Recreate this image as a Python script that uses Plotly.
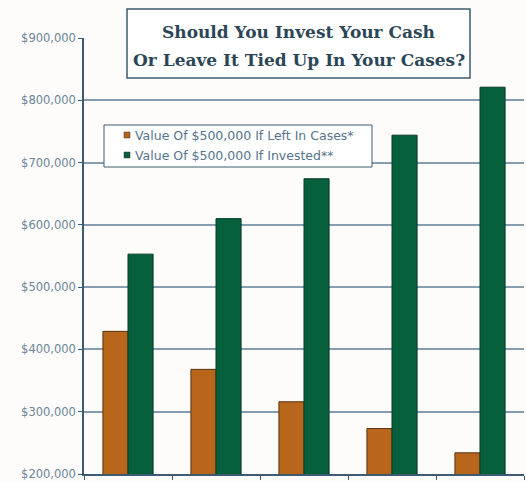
import plotly.graph_objects as go

categories = ["Year 1", "Year 2", "Year 3", "Year 4", "Year 5"]
left_in_cases = [429000, 368000, 316000, 273000, 234000]
invested = [553000, 610000, 674000, 744000, 821000]
tick_values = [200000, 300000, 400000, 500000, 600000, 700000, 800000, 900000]
tick_labels = ["$200,000", "$300,000", "$400,000", "$500,000",
               "$600,000", "$700,000", "$800,000", "$900,000"]
series_names = ["Value Of $500,000 If Left In Cases*", "Value Of $500,000 If Invested**"]
series_colors = ["#b8661c", "#07603c"]
title_lines = ["Should You Invest Your Cash", "Or Leave It Tied Up In Your Cases?"]

W, H = 526, 482
L, R, T, B = 84, 2, 38, 8
pw, ph = W - L - R, H - T - B

def px(x):
    return (x - L) / pw

def py(y):
    return (H - B - y) / ph

slate = "#3d5b70"

fig = go.Figure()
fig.add_trace(go.Bar(x=categories, y=left_in_cases, name=series_names[0],
                     marker=dict(color=series_colors[0], line=dict(color="#5a3410", width=1))))
fig.add_trace(go.Bar(x=categories, y=invested, name=series_names[1],
                     marker=dict(color=series_colors[1], line=dict(color="#043a24", width=1))))

fig.update_layout(
    width=W, height=H,
    margin=dict(l=L, r=R, t=T, b=B, pad=0, autoexpand=False),
    paper_bgcolor="#fefcfa", plot_bgcolor="#fefcfa",
    barmode="group", bargap=0.43, bargroupgap=0,
    showlegend=False,
    xaxis=dict(range=[-0.5, 4.5], showticklabels=False, ticks="outside",
               tickson="boundaries", ticklen=4, tickcolor=slate, automargin=False,
               showline=True, linecolor=slate, linewidth=1.5, showgrid=False),
    yaxis=dict(range=[200000, 900000], tickvals=tick_values, ticktext=tick_labels,
               ticks="outside", ticklen=4, tickcolor=slate, automargin=False,
               showline=True, linecolor=slate, linewidth=1.5,
               gridcolor="#869db0", gridwidth=2, zeroline=False,
               tickfont=dict(family="DejaVu Sans", size=11.5, color="#6a8499")),
)

# title box
fig.add_shape(type="rect", xref="paper", yref="paper",
              x0=px(127), x1=px(470), y0=py(78), y1=py(9),
              line=dict(color=slate, width=1.5), fillcolor="#ffffff", layer="above")
for line, yy in zip(title_lines, [32, 60]):
    fig.add_annotation(xref="paper", yref="paper", x=px(298.5), y=py(yy),
                       text="<b>" + line + "</b>", showarrow=False,
                       xanchor="center", yanchor="middle",
                       font=dict(family="DejaVu Serif", size=17, color="#2a4657"))

# legend box
fig.add_shape(type="rect", xref="paper", yref="paper",
              x0=px(104), x1=px(372), y0=py(167), y1=py(125),
              line=dict(color=slate, width=1), fillcolor="#ffffff", layer="above")
for name, color, yy in zip(series_names, series_colors, [135, 155]):
    fig.add_shape(type="rect", xref="paper", yref="paper",
                  x0=px(124), x1=px(130), y0=py(yy + 3), y1=py(yy - 3),
                  line=dict(color="#333333", width=0.5), fillcolor=color, layer="above")
    fig.add_annotation(xref="paper", yref="paper", x=px(133), y=py(yy),
                       text=name, showarrow=False, xanchor="left", yanchor="middle",
                       font=dict(family="DejaVu Sans", size=12.5, color="#55738c"))

fig.write_html("out.html", config={"displayModeBar": False},
               post_script="document.body.style.margin='0';")
